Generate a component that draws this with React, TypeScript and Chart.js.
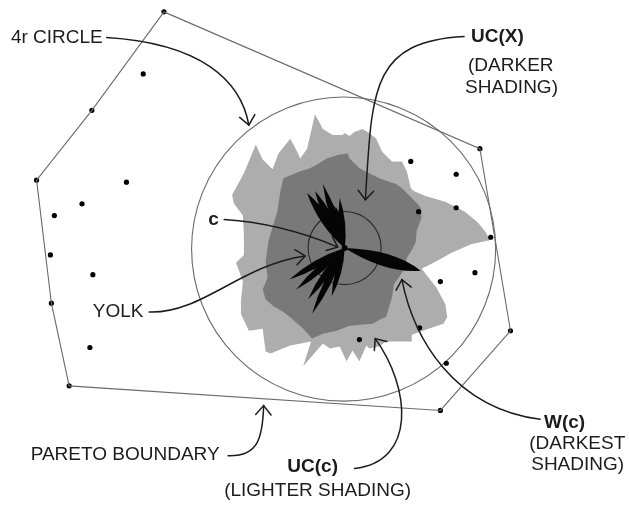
import React, { useEffect, useRef } from "react";
import { Chart, registerables } from "chart.js";

Chart.register(...registerables);

const WIDTH = 629;
const HEIGHT = 506;

// Voter ideal points
const voterX = [162, 141, 89, 33, 124, 79, 51, 47, 90, 48, 87, 66, 442, 513, 482, 412, 458, 420, 458, 493, 477, 442, 421, 360, 448];
const voterY = [8, 71, 108, 179, 181, 203, 215, 255, 275, 304, 349, 388, 413, 332, 147, 160, 173, 211, 207, 237, 273, 282, 329, 341, 365];

// Pareto boundary (convex hull of the ideal points)
const paretoX = [162, 482, 513, 442, 66, 48, 33, 89, 162];
const paretoY = [8, 147, 332, 413, 388, 304, 179, 108, 8];

// Uncovered set of the centre c, UC(c)
const ucC: [number, number][] = [
  [231, 194], [243, 172], [255, 143], [262, 158], [272, 168], [278, 152], [290, 137], [297, 150],
  [300, 157], [307, 147], [315, 112], [323, 127], [333, 133], [343, 133], [345, 131], [350, 134],
  [355, 130], [363, 127], [370, 131], [377, 137], [383, 150], [393, 160], [403, 160], [408, 170],
  [412, 187], [415, 190], [427, 195], [447, 201], [467, 211], [480, 222], [488, 232], [492, 240],
  [473, 244], [453, 253], [437, 262], [423, 269], [430, 278], [438, 288], [447, 305], [449, 318],
  [445, 325], [430, 330], [413, 336], [413, 343], [387, 343], [380, 348], [370, 350], [367, 347],
  [360, 363], [353, 352], [347, 363], [340, 348], [330, 350], [323, 345], [303, 368], [311, 343],
  [290, 347], [270, 355], [265, 353], [262, 330], [248, 332], [240, 315], [240, 302], [242, 282],
  [235, 263], [243, 255], [243, 235], [242, 215], [233, 203],
];

// Uncovered set of the voters, UC(X)
const ucX: [number, number][] = [
  [283, 177], [300, 170], [310, 167], [317, 163], [327, 157], [340, 153], [348, 152], [350, 157],
  [360, 167], [380, 177], [397, 183], [403, 187], [413, 197], [418, 202], [422, 207], [423, 217],
  [420, 225], [418, 230], [417, 242], [413, 250], [408, 258], [405, 270], [395, 285], [393, 298],
  [387, 318], [382, 320], [373, 325], [350, 327], [337, 332], [323, 335], [312, 340], [303, 330],
  [292, 320], [283, 313], [273, 307], [265, 300], [262, 290], [267, 278], [265, 262], [267, 248],
  [268, 240], [272, 227], [277, 210], [280, 190],
];

// Win set W(c): petals radiating from c
const centreC: [number, number] = [345, 248];
const petalTipX = [422, 307, 315, 323, 331, 340, 336, 289, 296, 301, 308, 312, 323, 332];
const petalTipY = [271, 192, 190, 183, 200, 197, 206, 280, 290, 286, 300, 315, 293, 297];
const petalWidth = [6.5, 4.5, 4, 3.5, 4, 3, 4, 3.5, 3.5, 3, 3.5, 3.5, 3, 3];

// 4r circle and yolk
const circleCX = [344, 345];
const circleCY = [249, 248];
const circleR = [154, 37];
const circleColor = ["#6a6a6a", "#2a2a2a"];

// Labels
const labelText = ["4r CIRCLE", "UC(X)", "(DARKER", "SHADING)", "c", "YOLK", "PARETO BOUNDARY", "UC(c)", "(LIGHTER SHADING)", "W(c)", "(DARKEST", "SHADING)"];
const labelX = [7, 473, 470, 467, 207, 90, 27, 287, 223, 547, 532, 534];
const labelY = [34, 33, 63, 85, 219, 313, 458, 470, 495, 425, 447, 468];
const labelBold = [false, true, false, false, true, false, false, true, false, true, false, false];

// Arrows as cubic curves: start, control 1, control 2, tip
const arrowCurves: [number, number][][] = [
  [[104, 34], [200, 40], [240, 78], [248, 123]],
  [[466, 33], [370, 38], [373, 90], [366, 199]],
  [[223, 219], [270, 222], [310, 235], [338, 247]],
  [[147, 313], [200, 315], [240, 265], [305, 256]],
  [[227, 459], [258, 460], [262, 440], [263, 408]],
  [[355, 472], [418, 465], [412, 390], [376, 340]],
  [[543, 422], [455, 410], [415, 340], [403, 280]],
];

const LIGHT = "#adadad";
const DARK = "#797979";
const INK = "#1c1c1c";
const LINE = "#6a6a6a";

const diagramPlugin = {
  id: "diagram",
  beforeDatasetsDraw(chart: any) {
    const { ctx } = chart;
    const sx = chart.scales.x;
    const sy = chart.scales.y;
    const px = (v: number) => sx.getPixelForValue(v);
    const py = (v: number) => sy.getPixelForValue(v);
    const unit = Math.abs(px(1) - px(0));

    const poly = (pts: [number, number][], color: string) => {
      ctx.beginPath();
      pts.forEach(([x, y], i) => (i ? ctx.lineTo(px(x), py(y)) : ctx.moveTo(px(x), py(y))));
      ctx.closePath();
      ctx.fillStyle = color;
      ctx.fill();
    };

    ctx.save();
    poly(ucC, LIGHT);
    poly(ucX, DARK);

    // 4r circle and yolk
    ctx.lineWidth = 1.1;
    circleCX.forEach((c, i) => {
      ctx.strokeStyle = circleColor[i];
      ctx.beginPath();
      ctx.arc(px(c), py(circleCY[i]), circleR[i] * unit, 0, Math.PI * 2);
      ctx.stroke();
    });

    // petals of W(c)
    const cx = px(centreC[0]);
    const cy = py(centreC[1]);
    ctx.fillStyle = "#050505";
    petalTipX.forEach((tx0, i) => {
      const tx = px(tx0);
      const ty = py(petalTipY[i]);
      const dx = tx - cx;
      const dy = ty - cy;
      const len = Math.hypot(dx, dy);
      const nx = -dy / len;
      const ny = dx / len;
      const pos = i === 0 ? 0.6 : 0.5;
      const mx = cx + dx * pos;
      const my = cy + dy * pos;
      const w = petalWidth[i] * unit * 2;
      ctx.beginPath();
      ctx.moveTo(cx, cy);
      ctx.quadraticCurveTo(mx + nx * w, my + ny * w, tx, ty);
      ctx.quadraticCurveTo(mx - nx * w, my - ny * w, cx, cy);
      ctx.fill();
    });
    ctx.beginPath();
    ctx.arc(cx, cy, 3 * unit, 0, Math.PI * 2);
    ctx.fill();
    ctx.restore();
  },
  afterDatasetsDraw(chart: any) {
    const { ctx } = chart;
    const sx = chart.scales.x;
    const sy = chart.scales.y;
    const px = (v: number) => sx.getPixelForValue(v);
    const py = (v: number) => sy.getPixelForValue(v);

    ctx.save();
    ctx.strokeStyle = INK;
    ctx.lineWidth = 1.5;
    ctx.lineCap = "round";
    arrowCurves.forEach((c) => {
      const p = c.map(([x, y]) => [px(x), py(y)]);
      ctx.beginPath();
      ctx.moveTo(p[0][0], p[0][1]);
      ctx.bezierCurveTo(p[1][0], p[1][1], p[2][0], p[2][1], p[3][0], p[3][1]);
      ctx.stroke();
      const ang = Math.atan2(p[3][1] - p[2][1], p[3][0] - p[2][0]);
      const head = 12;
      const spread = (40 * Math.PI) / 180;
      ctx.beginPath();
      ctx.moveTo(p[3][0] - head * Math.cos(ang - spread), p[3][1] - head * Math.sin(ang - spread));
      ctx.lineTo(p[3][0], p[3][1]);
      ctx.lineTo(p[3][0] - head * Math.cos(ang + spread), p[3][1] - head * Math.sin(ang + spread));
      ctx.stroke();
    });

    ctx.fillStyle = INK;
    ctx.textBaseline = "middle";
    ctx.textAlign = "left";
    labelText.forEach((t, i) => {
      ctx.font = `${labelBold[i] ? "bold " : ""}19px "Liberation Sans", Arial, sans-serif`;
      ctx.fillText(t, px(labelX[i]), py(labelY[i]));
    });
    ctx.restore();
  },
};

export default function App() {
  const canvasRef = useRef<HTMLCanvasElement | null>(null);

  useEffect(() => {
    if (!canvasRef.current) return;
    const chart = new Chart(canvasRef.current, {
      type: "scatter",
      data: {
        datasets: [
          {
            label: "Pareto boundary",
            data: paretoX.map((x, i) => ({ x, y: paretoY[i] })),
            showLine: true,
            borderColor: LINE,
            borderWidth: 1.1,
            pointRadius: 0,
            fill: false,
          },
          {
            label: "Ideal points",
            data: voterX.map((x, i) => ({ x, y: voterY[i] })),
            pointRadius: 2.6,
            pointBackgroundColor: "#000",
            pointBorderWidth: 0,
            showLine: false,
          },
        ],
      },
      options: {
        responsive: false,
        maintainAspectRatio: false,
        animation: false,
        devicePixelRatio: 1,
        layout: { padding: 0 },
        scales: {
          x: { type: "linear", min: 0, max: WIDTH, display: false },
          y: { type: "linear", min: 0, max: HEIGHT, reverse: true, display: false },
        },
        plugins: {
          legend: { display: false },
          tooltip: { enabled: false },
        },
      },
      plugins: [diagramPlugin],
    });
    return () => chart.destroy();
  }, []);

  return (
    <div style={{ position: "absolute", left: 0, top: 0, width: WIDTH, height: HEIGHT, background: "#fff" }}>
      <canvas ref={canvasRef} width={WIDTH} height={HEIGHT} />
    </div>
  );
}
